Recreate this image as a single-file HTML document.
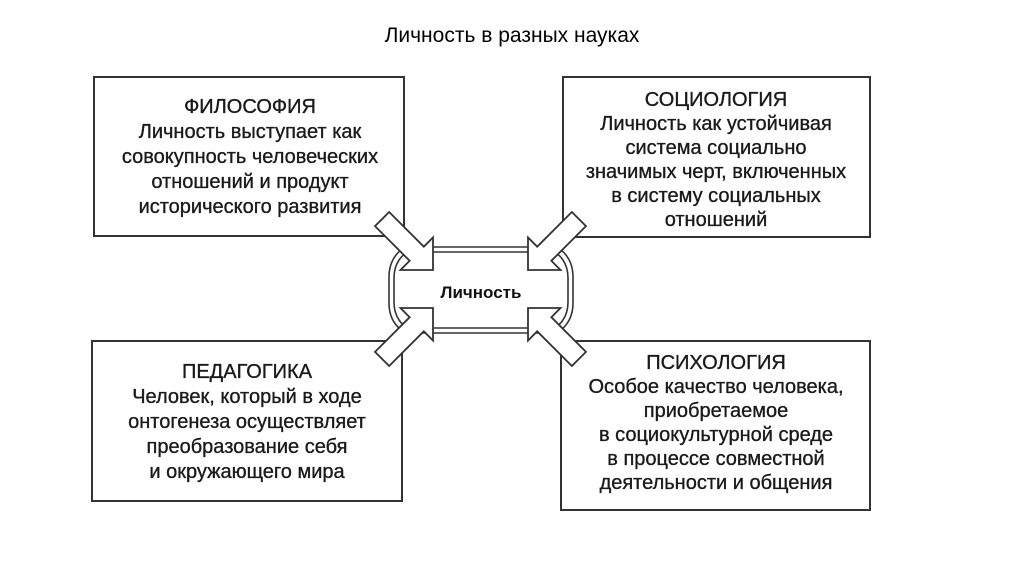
<!DOCTYPE html>
<html><head><meta charset="utf-8"><style>
body{margin:0;width:1024px;height:574px;background:#fff;overflow:hidden;font-family:"Liberation Sans",sans-serif}
svg{position:absolute;left:0;top:0}
.t{font-family:"Liberation Sans",sans-serif;fill:#1a1a1a;stroke:#1a1a1a;stroke-width:0.35;font-size:20px;text-anchor:middle}
</style></head><body>
<svg width="1024" height="574" viewBox="0 0 1024 574">
<text x="512" y="42" text-anchor="middle" font-family="Liberation Sans, sans-serif" font-size="21" fill="#000">Личность в разных науках</text>
<g fill="#fff" stroke="#333" stroke-width="2">
<rect x="94" y="77" width="310" height="159"/>
<rect x="563" y="77" width="307" height="160"/>
<rect x="92" y="341" width="310" height="160"/>
<rect x="561" y="341" width="309" height="169"/>
</g>
<g fill="none" stroke="#333" stroke-width="1.6">
<rect x="389" y="247" width="184" height="86" rx="22" ry="30"/>
<rect x="394" y="252" width="174" height="76" rx="18" ry="26"/>
</g>
<g fill="#fff" stroke="#333" stroke-width="1.8" stroke-linejoin="miter">
<polygon transform="translate(433,270) rotate(45)" points="0,0 -23,-23 -23,-10 -72,-10 -72,10 -23,10 -23,23"/>
<polygon transform="translate(528,270) rotate(135)" points="0,0 -23,-23 -23,-10 -72,-10 -72,10 -23,10 -23,23"/>
<polygon transform="translate(433,308) rotate(-45)" points="0,0 -23,-23 -23,-10 -72,-10 -72,10 -23,10 -23,23"/>
<polygon transform="translate(528,308) rotate(-135)" points="0,0 -23,-23 -23,-10 -72,-10 -72,10 -23,10 -23,23"/>
</g>
<text x="481" y="298" text-anchor="middle" font-family="Liberation Sans, sans-serif" font-weight="bold" font-size="17" fill="#111">Личность</text>
<g>
<text class="t" x="250" y="113">ФИЛОСОФИЯ</text>
<text class="t" x="250" y="138">Личность выступает как</text>
<text class="t" x="250" y="163">совокупность человеческих</text>
<text class="t" x="250" y="188">отношений и продукт</text>
<text class="t" x="250" y="213">исторического развития</text>

<text class="t" x="716" y="106">СОЦИОЛОГИЯ</text>
<text class="t" x="716" y="130">Личность как устойчивая</text>
<text class="t" x="716" y="154">система социально</text>
<text class="t" x="716" y="178">значимых черт, включенных</text>
<text class="t" x="716" y="202">в систему социальных</text>
<text class="t" x="716" y="226">отношений</text>

<text class="t" x="247" y="378">ПЕДАГОГИКА</text>
<text class="t" x="247" y="403">Человек, который в ходе</text>
<text class="t" x="247" y="428">онтогенеза осуществляет</text>
<text class="t" x="247" y="453">преобразование себя</text>
<text class="t" x="247" y="478">и окружающего мира</text>

<text class="t" x="716" y="369">ПСИХОЛОГИЯ</text>
<text class="t" x="716" y="393">Особое качество человека,</text>
<text class="t" x="716" y="417">приобретаемое</text>
<text class="t" x="716" y="441">в социокультурной среде</text>
<text class="t" x="716" y="465">в процессе совместной</text>
<text class="t" x="716" y="489">деятельности и общения</text>
</g>
</svg>
</body></html>
